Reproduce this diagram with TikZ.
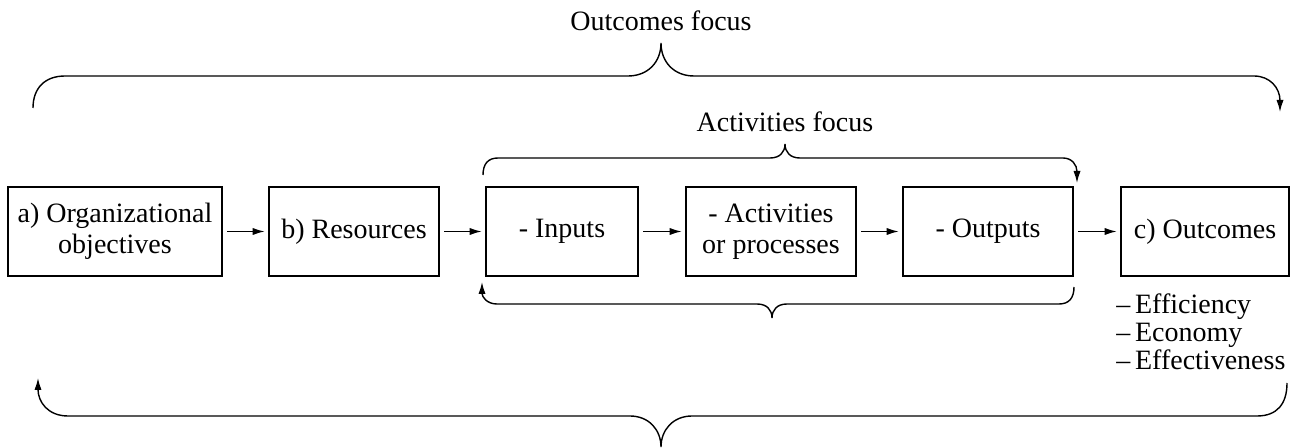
\documentclass[tikz,border=0pt]{standalone}
\usepackage{fontspec}
\setmainfont{Liberation Serif}
\usetikzlibrary{arrows.meta}

\begin{document}
\begin{tikzpicture}[x=0.5pt,y=-0.5pt,>={Latex[length=6pt,width=3.6pt]},
    font=\fontsize{14}{15.5}\selectfont]
  \tikzstyle{box}=[draw,line width=1.3pt,minimum height=44.5pt,align=center,inner sep=2pt]
  \tikzstyle{link}=[->,line width=0.7pt,shorten <=2pt,shorten >=1.5pt]
  \tikzstyle{brace}=[->,line width=0.7pt]
  \useasboundingbox (0,0) rectangle (1291,448);

  \node[box,minimum width=107pt] (objectives) at (115,231.5) {a) Organizational\\objectives};
  \node[box,minimum width=85pt]  (resources)  at (354,231.5) {b) Resources};
  \node[box,minimum width=76pt]  (inputs)     at (562,231.5) {- Inputs};
  \node[box,minimum width=85pt]  (activities) at (771,231.5) {- Activities\\or processes};
  \node[box,minimum width=85pt]  (outputs)    at (988,231.5) {- Outputs};
  \node[box,minimum width=84pt]  (outcomes)   at (1205,231.5) {c) Outcomes};
  \draw[link] (objectives) -- (resources);
  \draw[link] (resources) -- (inputs);
  \draw[link] (inputs) -- (activities);
  \draw[link] (activities) -- (outputs);
  \draw[link] (outputs) -- (outcomes);

  \node[anchor=north west,align=left,inner sep=0pt,font=\fontsize{14}{14}\selectfont]
        (measures) at (1116,293) {--\,Efficiency\\--\,Economy\\--\,Effectiveness};

  \node[anchor=base] (outfocus) at (661,31)  {Outcomes focus};
  \node[anchor=base] (actfocus) at (785,132) {Activities focus};

  \coordinate (ot_1) at (33,108);
  \coordinate (ot_2) at (1280,112);
  \draw[brace] (ot_1) .. controls (33,88) and (45,76) .. (65,76) -- (628,76)
        .. controls (648,76) and (661,62) .. (661,43)
        .. controls (661,62) and (674,76) .. (694,76) -- (1254,76)
        .. controls (1270,76) and (1280,88) .. (ot_2);

  \coordinate (at_1) at (483,175);
  \coordinate (at_2) at (1077,183);
  \draw[brace] (at_1) .. controls (483,164) and (488,158) .. (498,158) -- (770,158)
        .. controls (780,158) and (785,152) .. (785,144)
        .. controls (785,152) and (790,158) .. (800,158) -- (1063,158)
        .. controls (1072,158) and (1077,165) .. (at_2);

  \coordinate (ab_1) at (1074,287);
  \coordinate (ab_2) at (482,282);
  \draw[brace] (ab_1) .. controls (1074,298) and (1069,304) .. (1059,304) -- (787,304)
        .. controls (777,304) and (772,310) .. (772,318)
        .. controls (772,310) and (767,304) .. (757,304) -- (497,304)
        .. controls (487,304) and (482,297) .. (ab_2);

  \coordinate (ob_1) at (1287,383);
  \coordinate (ob_2) at (38,378);
  \draw[brace] (ob_1) .. controls (1287,404) and (1277,416) .. (1257,416) -- (692,416)
        .. controls (673,416) and (661,430) .. (661,447)
        .. controls (661,430) and (649,416) .. (630,416) -- (68,416)
        .. controls (48,416) and (38,402) .. (ob_2);
\end{tikzpicture}
\end{document}
